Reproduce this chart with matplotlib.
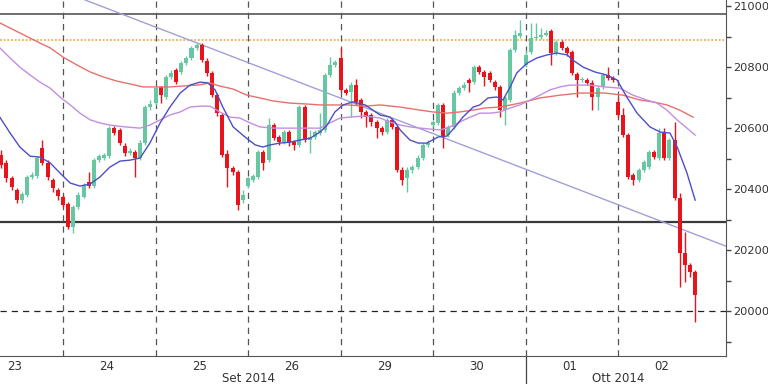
import matplotlib
matplotlib.use("Agg")
import matplotlib.pyplot as plt
import numpy as np
from matplotlib.lines import Line2D

# ---------------- data ----------------
first_idx = 6  # first visible candle index (day "23" starts at index 0)
opens = [20512, 20486, 20436, 20397, 20364, 20381, 20440, 20443, 20535, 20486, 20430, 20397,
         20374, 20351, 20276, 20341, 20374, 20423, 20410, 20495, 20502, 20508, 20600, 20594, 20541, 20518, 20522, 20502, 20551, 20669,
         20682, 20735, 20702, 20768, 20790, 20784, 20813, 20830, 20863, 20872, 20820, 20781, 20708, 20643, 20515, 20469, 20456, 20364,
         20410, 20430, 20440, 20522, 20495, 20610, 20571, 20554, 20587, 20554, 20545, 20669, 20561, 20571, 20584, 20594, 20774, 20807,
         20830, 20725, 20718, 20741, 20692, 20653, 20643, 20620, 20600, 20587, 20627, 20604, 20463, 20436, 20463, 20472, 20502, 20545,
         20610, 20617, 20676, 20577, 20604, 20715, 20731, 20758, 20751, 20800, 20784, 20781, 20751, 20735, 20659, 20692, 20856, 20902,
         20807, 20849, 20895, 20899, 20905, 20918, 20846, 20882, 20863, 20849, 20777, 20758, 20758, 20748, 20702, 20735, 20774, 20764,
         20686, 20643, 20577, 20446, 20430, 20463, 20472, 20522, 20502, 20587, 20502, 20561, 20371, 20190, 20151, 20128]
closes = [20479, 20436, 20407, 20364, 20384, 20440, 20446, 20502, 20486, 20440, 20404, 20377,
          20348, 20276, 20341, 20381, 20413, 20410, 20495, 20508, 20512, 20600, 20584, 20551, 20518, 20525, 20502, 20551, 20669, 20679,
          20731, 20708, 20768, 20781, 20751, 20813, 20830, 20863, 20872, 20823, 20781, 20708, 20649, 20512, 20469, 20456, 20348, 20381,
          20436, 20443, 20522, 20486, 20610, 20567, 20554, 20587, 20551, 20545, 20669, 20561, 20571, 20587, 20594, 20774, 20807, 20817,
          20725, 20715, 20741, 20686, 20653, 20636, 20620, 20600, 20587, 20627, 20604, 20463, 20430, 20463, 20472, 20502, 20545, 20551,
          20620, 20676, 20571, 20604, 20715, 20731, 20741, 20748, 20800, 20784, 20768, 20758, 20735, 20659, 20699, 20856, 20905, 20912,
          20840, 20895, 20899, 20905, 20912, 20846, 20882, 20863, 20846, 20781, 20758, 20761, 20748, 20702, 20731, 20774, 20764, 20758,
          20643, 20577, 20440, 20430, 20463, 20489, 20522, 20505, 20584, 20502, 20561, 20371, 20190, 20151, 20128, 20053]
highs = [20528, 20495, 20443, 20404, 20390, 20446, 20456, 20508, 20561, 20495, 20436, 20404,
         20381, 20358, 20348, 20390, 20420, 20456, 20502, 20515, 20518, 20607, 20607, 20600, 20551, 20535, 20528, 20561, 20676, 20692,
         20738, 20738, 20774, 20790, 20797, 20820, 20836, 20869, 20879, 20879, 20830, 20787, 20715, 20649, 20528, 20476, 20463, 20397,
         20440, 20450, 20528, 20528, 20633, 20617, 20577, 20594, 20594, 20561, 20676, 20676, 20594, 20594, 20649, 20781, 20833, 20823,
         20863, 20731, 20751, 20761, 20699, 20659, 20649, 20627, 20607, 20633, 20633, 20610, 20472, 20472, 20479, 20512, 20551, 20561,
         20627, 20682, 20682, 20610, 20725, 20738, 20751, 20764, 20807, 20807, 20790, 20787, 20758, 20741, 20708, 20863, 20921, 20954,
         20856, 20945, 20945, 20928, 20921, 20925, 20889, 20889, 20869, 20856, 20784, 20768, 20764, 20758, 20738, 20781, 20800, 20771,
         20702, 20666, 20584, 20453, 20469, 20495, 20528, 20528, 20600, 20600, 20567, 20620, 20387, 20259, 20157, 20135]
lows = [20469, 20423, 20397, 20354, 20354, 20374, 20433, 20436, 20479, 20430, 20390, 20364,
        20341, 20269, 20256, 20335, 20371, 20404, 20404, 20489, 20495, 20502, 20577, 20545, 20508, 20512, 20440, 20495, 20545, 20659,
        20676, 20682, 20695, 20761, 20745, 20777, 20807, 20823, 20856, 20817, 20771, 20702, 20640, 20505, 20407, 20446, 20331, 20354,
        20404, 20423, 20433, 20463, 20489, 20561, 20545, 20548, 20541, 20528, 20538, 20554, 20518, 20564, 20577, 20587, 20768, 20800,
        20718, 20708, 20636, 20679, 20633, 20604, 20607, 20567, 20577, 20580, 20597, 20456, 20413, 20390, 20453, 20466, 20495, 20538,
        20604, 20610, 20535, 20571, 20597, 20708, 20725, 20718, 20745, 20777, 20738, 20751, 20725, 20636, 20610, 20686, 20849, 20895,
        20800, 20843, 20889, 20892, 20902, 20807, 20840, 20856, 20836, 20774, 20702, 20751, 20741, 20659, 20659, 20728, 20758, 20751,
        20636, 20571, 20433, 20413, 20423, 20456, 20466, 20499, 20495, 20495, 20495, 20364, 20079, 20095, 20112, 19964]

# moving averages (position in candle units, price)
ma_fast_x = [5.7, 7.7, 9.6, 11.6, 13.5, 15.5, 17.4, 19.4, 21.3, 23.3, 25.2, 27.1, 29.1, 31.0, 33.0, 34.9, 36.9, 38.8, 40.8,
             42.7, 44.7, 46.2, 47.6, 49.1, 51.1, 53.4, 55.4, 56.9, 58.3, 60.2, 62.2, 64.1, 66.1, 68.0, 69.4, 70.9, 72.5, 74.4,
             76.8, 79.7, 81.6, 82.6, 83.6, 85.5, 87.1, 88.8, 91.0, 92.7, 94.3, 95.8, 97.8, 99.1, 100.7, 102.4, 103.6, 105.0,
             106.3, 108.3, 110.2, 112.2, 114.1, 116.1, 117.2, 119.2, 121.5, 123.8, 125.8, 127.7, 129.7, 132.2, 134.2, 136.1,
             137.5, 139.4, 141.0]
ma_fast_y = [20636, 20584, 20538, 20508, 20505, 20486, 20453, 20420, 20410, 20417, 20440, 20472, 20492, 20495, 20502, 20551,
             20617, 20669, 20715, 20741, 20751, 20748, 20725, 20669, 20604, 20571, 20545, 20538, 20545, 20551, 20554, 20561,
             20567, 20587, 20610, 20653, 20676, 20686, 20676, 20643, 20636, 20620, 20594, 20561, 20551, 20551, 20571, 20574,
             20604, 20636, 20669, 20676, 20699, 20702, 20692, 20735, 20781, 20813, 20830, 20840, 20846, 20840, 20823, 20800,
             20784, 20774, 20758, 20702, 20649, 20604, 20587, 20584, 20538, 20453, 20364]
ma_mid_x = [5.7, 7.7, 9.6, 11.6, 13.5, 15.5, 17.4, 19.4, 21.3, 23.3, 25.2, 27.1, 30.1, 33.0, 34.9, 36.9, 38.8, 40.8, 42.7,
            44.7, 46.6, 48.5, 50.5, 52.4, 54.4, 56.3, 58.9, 62.2, 65.5, 68.0, 69.9, 71.9, 73.8, 76.8, 79.7, 81.6, 83.6, 85.5,
            87.5, 89.4, 91.4, 93.3, 95.2, 97.2, 99.1, 101.1, 103.0, 105.0, 106.9, 108.9, 110.8, 112.7, 114.7, 116.6, 118.6,
            120.5, 123.4, 126.4, 128.9, 131.6, 133.6, 135.5, 137.5, 139.4, 141.0]
ma_mid_y = [20863, 20830, 20800, 20774, 20751, 20731, 20702, 20676, 20649, 20627, 20617, 20610, 20604, 20600, 20610, 20627,
            20643, 20653, 20669, 20672, 20672, 20653, 20636, 20633, 20617, 20604, 20600, 20600, 20600, 20600, 20617, 20633,
            20636, 20640, 20633, 20620, 20610, 20604, 20600, 20597, 20594, 20604, 20620, 20636, 20649, 20649, 20653, 20666,
            20676, 20692, 20708, 20725, 20735, 20741, 20741, 20741, 20735, 20731, 20708, 20692, 20682, 20659, 20627, 20600, 20577]
ma_slow_x = [5.7, 7.7, 9.6, 11.6, 13.5, 15.5, 18.0, 20.7, 23.3, 25.8, 28.5, 31.0, 33.6, 36.3, 38.8, 41.3, 44.1, 46.6, 48.5,
             51.1, 53.8, 56.3, 58.9, 62.2, 65.5, 68.0, 73.3, 76.8, 79.7, 83.6, 87.5, 90.0, 92.7, 95.2, 97.8, 100.1, 103.0,
             106.9, 110.8, 114.7, 118.6, 123.4, 127.0, 130.3, 132.8, 135.5, 138.0, 140.6]
ma_slow_y = [20945, 20928, 20912, 20895, 20879, 20863, 20833, 20807, 20784, 20768, 20754, 20745, 20735, 20735, 20735, 20738,
             20741, 20748, 20738, 20728, 20708, 20699, 20689, 20682, 20679, 20676, 20676, 20672, 20676, 20669, 20659, 20653,
             20649, 20653, 20659, 20666, 20669, 20682, 20699, 20708, 20715, 20715, 20708, 20692, 20686, 20676, 20659, 20636]

trend_x = [22.3, 147.0]
trend_y = [21020, 20213]

resistance_top = 20975
resistance_dotted = 20890
support_line = 20293
level_dashed = 20000

day_labels = ["23", "24", "25", "26", "29", "30", "01", "02"]
candles_per_day = 18
month_labels = ["Set 2014", "Ott 2014"]
month_label_pos = [54, 126]
month_break = 108

y_major = [20000, 20200, 20400, 20600, 20800, 21000]
y_minor = [19900, 20100, 20300, 20500, 20700, 20900]

# ---------------- plot ----------------
GREEN = "#66c7a2"
RED = "#e8141c"

fig = plt.figure(figsize=(7.68, 3.84), dpi=100)
ax = fig.add_axes([0.0, 28 / 384, 726 / 768, 356 / 384])
ax.set_xlim(5.74, 147.0)
ax.set_ylim(19853, 21020)

o = np.array(opens, float); c = np.array(closes, float)
h = np.array(highs, float); l = np.array(lows, float)
x = np.arange(first_idx, first_idx + len(o))
up = c >= o
cols = np.where(up, GREEN, RED)

# reference lines
ax.axhline(resistance_top, color="#6e6e6e", lw=1.4, zorder=1)
ax.axhline(resistance_dotted, color="#f0a030", lw=1.1, ls=(0, (1.2, 1.2)), zorder=1)
ax.axhline(support_line, color="#3a3a3a", lw=1.6, zorder=1)
ax.axhline(level_dashed, color="#222222", lw=0.9, ls=(0, (5, 4)), zorder=1)
for d in range(1, len(day_labels)):
    ax.axvline(d * candles_per_day, color="#555555", lw=0.9, ls=(0, (5, 4)), zorder=1)

# month separator below the axis
ax.add_line(Line2D([month_break, month_break], [0, -0.09], transform=ax.get_xaxis_transform(),
                   color="#444444", lw=0.9, clip_on=False))

# trendline
ax.plot(trend_x, trend_y, color="#a0a0d8", lw=1.0, zorder=2)

# candles
ax.vlines(x, l, h, colors=cols, lw=1.0, zorder=3)
body_h = np.maximum(np.abs(c - o), 2.5)
ax.bar(x, body_h, bottom=np.minimum(o, c), width=0.78, color=cols, edgecolor=cols, lw=0, zorder=4)

# moving averages
ax.plot(ma_slow_x, ma_slow_y, color="#e8706c", lw=1.0, zorder=5)
ax.plot(ma_mid_x, ma_mid_y, color="#c48ee0", lw=1.0, zorder=5)
ax.plot(ma_fast_x, ma_fast_y, color="#4d4fc8", lw=1.0, zorder=6)

# axes styling
for s in ["left", "top"]:
    ax.spines[s].set_visible(False)
ax.spines["right"].set_color("#555555")
ax.spines["bottom"].set_color("#555555")
ax.yaxis.tick_right()
ax.set_yticks(y_major)
ax.set_yticks(y_minor, minor=True)
ax.set_yticklabels([str(v) for v in y_major])
ax.tick_params(axis="y", which="both", direction="out", length=3.5, width=1, color="#444444",
               labelsize=8.2, labelcolor="#333333", pad=1.5)
ax.set_xticks([d * candles_per_day + 8.5 for d in range(len(day_labels))])
ax.set_xticklabels(day_labels)
ax.tick_params(axis="x", length=0, labelsize=8.5, labelcolor="#333333", pad=3)

for lab, pos in zip(month_labels, month_label_pos):
    ax.text(pos, 2.5 / 384, lab, transform=ax.get_xaxis_transform().__class__(ax.transData, fig.transFigure),
            ha="center", va="baseline", fontsize=8.5, color="#333333")

fig.savefig("out.png", dpi=100, facecolor="white")
